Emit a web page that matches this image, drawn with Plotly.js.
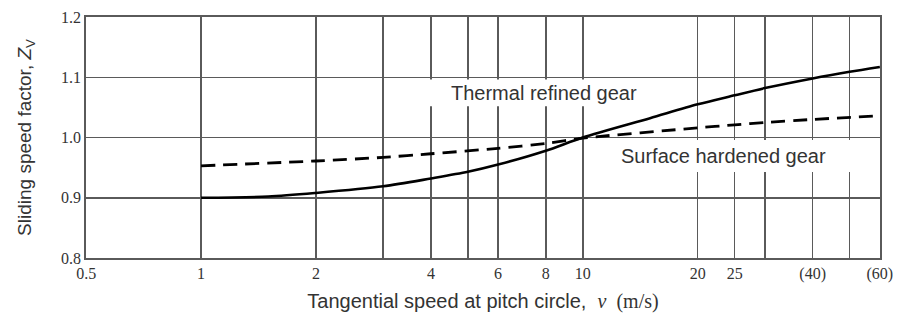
<!DOCTYPE html>
<html>
<head>
<meta charset="utf-8">
<script src="https://cdn.plot.ly/plotly-3.0.1.min.js"></script>
<style>html,body{margin:0;padding:0;background:#fff;}#chart{width:901px;height:322px;}</style>
</head>
<body>
<div id="chart"></div>
<script>
// Tangential speed (m/s)
const thermalSpeed = [1, 1.5, 2, 3, 4, 5, 6, 8, 10, 15, 20, 25, 30, 40, 50, 60];
const thermalFactor = [0.900, 0.902, 0.908, 0.919, 0.932, 0.943, 0.955, 0.978, 1.000, 1.032, 1.055, 1.070, 1.082, 1.098, 1.109, 1.117];
const surfaceSpeed = [1, 2, 3, 4, 6, 8, 10, 20, 25, 30, 40, 60];
const surfaceFactor = [0.953, 0.961, 0.967, 0.973, 0.982, 0.990, 0.999, 1.016, 1.021, 1.025, 1.030, 1.036];
const xTickVals = [0.5, 1, 2, 4, 6, 8, 10, 20, 25, 40, 60];
const xTickText = ["0.5", "1", "2", "4", "6", "8", "10", "20", "25", "(40)", "(60)"];
const xMinorGridVals = [3, 5, 30, 50];
const yTickVals = [0.8, 0.9, 1.0, 1.1, 1.2];
const yTickText = ["0.8", "0.9", "1.0", "1.1", "1.2"];
const curveLabels = ["Thermal refined gear", "Surface hardened gear"];

const traces = [
  {x: thermalSpeed, y: thermalFactor, mode: 'lines', name: curveLabels[0],
   line: {color: '#000', width: 2.6, shape: 'spline', smoothing: 0.8}},
  {x: surfaceSpeed, y: surfaceFactor, mode: 'lines', name: curveLabels[1],
   line: {color: '#000', width: 2.8, dash: '14px,8px', shape: 'spline', smoothing: 0.6}}
];

const gridColor = '#5a5a5a';
const layout = {
  width: 901, height: 322,
  margin: {l: 86, r: 21, t: 17, b: 64},
  paper_bgcolor: '#fff', plot_bgcolor: '#fff',
  showlegend: false,
  font: {family: 'Liberation Sans, Arial, sans-serif', color: '#333'},
  xaxis: {
    type: 'log',
    range: [Math.log10(0.5) - 0.0004, Math.log10(60) + 0.0004],
    tickmode: 'array', tickvals: xTickVals, ticktext: xTickText,
    ticks: '', showgrid: true, gridcolor: gridColor, gridwidth: 1.5,
    minor: {tickmode: 'array', tickvals: xMinorGridVals, ticks: '', showgrid: true, gridcolor: gridColor, gridwidth: 1.5},
    showline: true, linecolor: gridColor, linewidth: 1.8, mirror: true,
    zeroline: false, automargin: false,
    tickfont: {family: 'Liberation Serif, Times New Roman, serif', size: 16, color: '#333'},
    title: {text: 'Tangential speed at pitch circle,\u00a0 <span style="font-family:Liberation Serif"><i>v</i>\u00a0 (m/s)</span>',
            font: {size: 20, color: '#333'}, standoff: 12}
  },
  yaxis: {
    range: [0.8, 1.2],
    tickmode: 'array', tickvals: yTickVals, ticktext: yTickText,
    ticks: '', showgrid: true, gridcolor: gridColor, gridwidth: 1.5,
    showline: true, linecolor: gridColor, linewidth: 1.8, mirror: true,
    zeroline: false, automargin: false,
    tickfont: {family: 'Liberation Serif, Times New Roman, serif', size: 16, color: '#333'},
    title: {text: 'Sliding speed factor, <i>Z</i><sub>V</sub>',
            font: {size: 19, color: '#333'}, standoff: 24}
  },
  shapes: [
    {type: 'rect', xref: 'paper', yref: 'paper', x0: 0.427, x1: 0.718, y0: 0.63, y1: 0.741,
     fillcolor: '#fff', line: {width: 0}, layer: 'above'},
    {type: 'rect', xref: 'paper', yref: 'paper', x0: 0.647, x1: 0.975, y0: 0.357, y1: 0.49,
     fillcolor: '#fff', line: {width: 0}, layer: 'above'}
  ],
  annotations: [
    {xref: 'paper', yref: 'paper', x: 0.577, y: 0.685, text: curveLabels[0], showarrow: false,
     font: {size: 20, color: '#333'}, xanchor: 'center', yanchor: 'middle'},
    {xref: 'paper', yref: 'paper', x: 0.803, y: 0.423, text: curveLabels[1], showarrow: false,
     font: {size: 20, color: '#333'}, xanchor: 'center', yanchor: 'middle'}
  ]
};

Plotly.newPlot('chart', traces, layout, {displayModeBar: false, staticPlot: true});
</script>
</body>
</html>
